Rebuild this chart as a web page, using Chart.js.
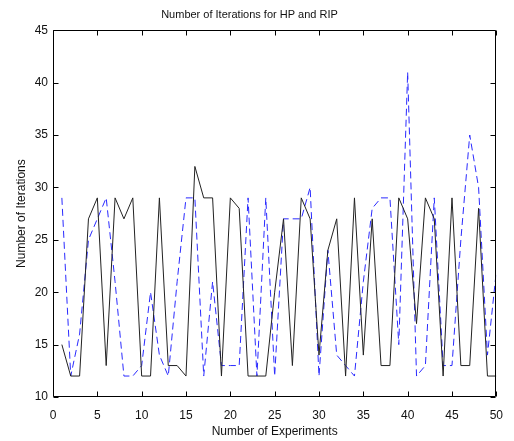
<!DOCTYPE html>
<html>
<head>
<meta charset="utf-8">
<script src="https://cdn.jsdelivr.net/npm/chart.js@4/dist/chart.umd.min.js"></script>
<style>
html,body{margin:0;padding:0;background:#fff;}
#wrap{width:514px;height:441px;}
</style>
</head>
<body>
<div id="wrap"><canvas id="c" width="514" height="441"></canvas></div>
<script>
const experiments = [1,2,3,4,5,6,7,8,9,10,11,12,13,14,15,16,17,18,19,20,21,22,23,24,25,26,27,28,29,30,31,32,33,34,35,36,37,38,39,40,41,42,43,44,45,46,47,48,49,50];
const hpIterations = [15,12,12,27,29,13,29,27,29,12,12,29,13,13,12,32,29,29,12,29,28,12,12,12,20,27,13,29,27,14,24,27,12,29,14,27,13,13,29,27,17,29,27,12,29,13,13,28,12,12];
const ripIterations = [29,12,16,25,27,29,21,12,12,13,20,14,12,21,29,29,12,21,13,13,13,29,12,29,12,27,27,27,30,12,24,14,13,12,21,28,29,29,15,41,12,13,29,13,13,25,35,30,14,22];
const xTicks = [0,5,10,15,20,25,30,35,40,45,50];
const yTicks = [10,15,20,25,30,35,40,45];

const FONT = "'Liberation Sans', Arial, sans-serif";

const innerTicks = {
  id: 'innerTicks',
  afterDraw(chart) {
    const {ctx, chartArea: a, scales: {x, y}} = chart;
    ctx.save();
    ctx.strokeStyle = '#000';
    ctx.lineWidth = 1;
    const L = Math.round(a.left) + 0.5, R = Math.round(a.right) - 0.5;
    const T = Math.round(a.top) + 0.5, B = Math.round(a.bottom) - 0.5;
    ctx.beginPath();
    ctx.rect(L, T, R - L, B - T);
    ctx.stroke();
    ctx.beginPath();
    xTicks.forEach(v => {
      const px = Math.round(x.getPixelForValue(v)) + 0.5;
      ctx.moveTo(px, B); ctx.lineTo(px, B - 5);
      ctx.moveTo(px, T); ctx.lineTo(px, T + 5);
    });
    yTicks.forEach(v => {
      const py = Math.round(y.getPixelForValue(v)) + 0.5;
      ctx.moveTo(L, py); ctx.lineTo(L + 5, py);
      ctx.moveTo(R, py); ctx.lineTo(R - 5, py);
    });
    ctx.stroke();
    ctx.restore();
  }
};

new Chart(document.getElementById('c'), {
  type: 'line',
  data: {
    datasets: [
      {
        label: 'HP',
        data: experiments.map((e, i) => ({x: e, y: hpIterations[i]})),
        borderColor: '#222',
        borderWidth: 1,
        pointRadius: 0,
        tension: 0,
        fill: false
      },
      {
        label: 'RIP',
        data: experiments.map((e, i) => ({x: e, y: ripIterations[i]})),
        borderColor: '#2a2aff',
        borderWidth: 1,
        borderDash: [7, 4],
        pointRadius: 0,
        tension: 0,
        fill: false
      }
    ]
  },
  options: {
    responsive: false,
    animation: false,
    layout: {padding: {left: 0, right: 15, top: 0, bottom: 0}},
    plugins: {
      legend: {display: false},
      tooltip: {enabled: false},
      title: {
        display: true,
        text: 'Number of Iterations for HP and RIP',
        color: '#111',
        font: {family: FONT, size: 11, weight: 'normal', lineHeight: 1.2},
        padding: {top: 8, bottom: 9}
      }
    },
    scales: {
      x: {
        type: 'linear',
        min: 0, max: 50,
        afterBuildTicks: s => { s.ticks = xTicks.map(v => ({value: v})); },
        afterFit: s => { s.height = 44; },
        grid: {display: false, drawTicks: false},
        border: {display: false},
        ticks: {color: '#111', font: {family: FONT, size: 12}, padding: 11, maxRotation: 0, autoSkip: false},
        title: {display: true, text: 'Number of Experiments', color: '#111',
                font: {family: FONT, size: 12}, padding: {top: 0, bottom: 2}}
      },
      y: {
        type: 'linear',
        min: 10, max: 45,
        afterBuildTicks: s => { s.ticks = yTicks.map(v => ({value: v})); },
        afterFit: s => { s.width = 53; },
        grid: {display: false, drawTicks: false},
        border: {display: false},
        ticks: {color: '#111', font: {family: FONT, size: 12}, padding: 5, autoSkip: false},
        title: {display: true, text: 'Number of Iterations', color: '#111',
                font: {family: FONT, size: 12}, padding: {top: 14, bottom: 0}}
      }
    }
  },
  plugins: [innerTicks]
});
</script>
</body>
</html>
